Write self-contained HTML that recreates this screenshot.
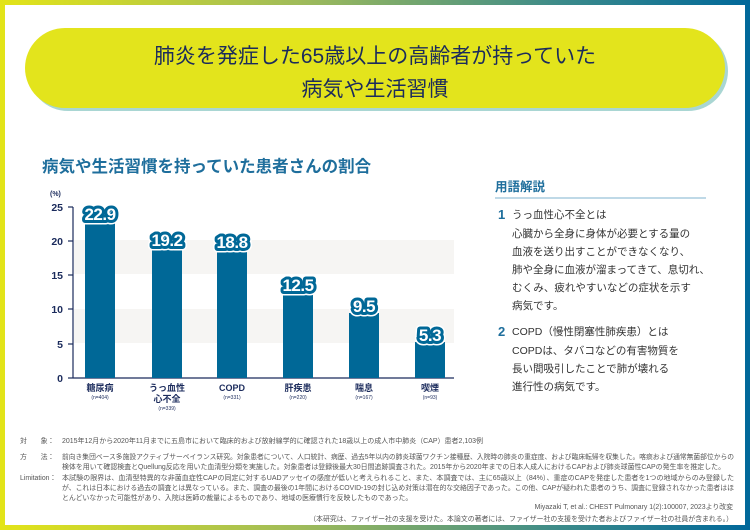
<!DOCTYPE html>
<html><head><meta charset="utf-8"><style>
html,body{margin:0;padding:0}
body{width:750px;height:530px;position:relative;overflow:hidden;background:linear-gradient(90deg,#e3e418 0%,#9fbb5a 40%,#3b8a8a 75%,#00689a 100%);font-family:"Liberation Sans","Noto Sans CJK JP",sans-serif}
.in{position:absolute;left:5px;top:5px;right:5px;bottom:5px;background:#fff}
.t{position:absolute;white-space:nowrap}
</style></head><body>
<div class="in"></div>
<div style="position:absolute;left:28px;top:31px;width:700px;height:80px;border-radius:40px;background:#a9d6d3"></div>
<div style="position:absolute;left:25px;top:28px;width:700px;height:80px;border-radius:40px;background:#e3e41c"></div>
<div class="t" style="left:25px;width:700px;top:40px;text-align:center;font-size:21px;line-height:33px;color:#1b2b5c">肺炎を発症した65歳以上の高齢者が持っていた<br>病気や生活習慣</div>
<svg style="position:absolute;left:0;top:0" width="750" height="530" font-family="Liberation Sans, Noto Sans CJK JP, sans-serif">
<text x="42" y="172" font-size="16.5" font-weight="bold" fill="#1e6e9c">病気や生活習慣を持っていた患者さんの割合</text>
<text x="50" y="196" font-size="7" font-weight="bold" fill="#1b2b5c">(%)</text>
<rect x="74" y="240" width="380" height="34" fill="#f6f5f3"/>
<rect x="74" y="309" width="380" height="34" fill="#f6f5f3"/>
<g stroke="#1b2b5c" stroke-width="1.2"><line x1="73" y1="207" x2="73" y2="378"/><line x1="73" y1="378" x2="454" y2="378"/>
<line x1="68" y1="207" x2="73" y2="207"/><line x1="68" y1="241" x2="73" y2="241"/><line x1="68" y1="275" x2="73" y2="275"/><line x1="68" y1="309" x2="73" y2="309"/><line x1="68" y1="344" x2="73" y2="344"/><line x1="68" y1="378" x2="73" y2="378"/></g>
<g font-size="10.5" font-weight="bold" fill="#1b2b5c" text-anchor="end"><text x="63" y="211">25</text><text x="63" y="245">20</text><text x="63" y="279">15</text><text x="63" y="313">10</text><text x="63" y="348">5</text><text x="63" y="382">0</text></g>
<g fill="#006897"><rect x="85" y="221" width="30" height="157"/><rect x="152" y="247" width="30" height="131"/><rect x="217" y="249" width="30" height="129"/><rect x="283" y="292" width="30" height="86"/><rect x="349" y="313" width="30" height="65"/><rect x="415" y="342" width="30" height="36"/></g>
<g font-size="17" font-weight="bold" text-anchor="middle" letter-spacing="-0.5" stroke-linejoin="round">
<g stroke="#fff" stroke-width="9" fill="#fff"><text x="100" y="220">22.9</text><text x="167" y="246">19.2</text><text x="232" y="248">18.8</text><text x="298" y="291">12.5</text><text x="364" y="312">9.5</text><text x="430" y="341">5.3</text></g>
<g stroke="#006897" stroke-width="6" fill="#006897"><text x="100" y="220">22.9</text><text x="167" y="246">19.2</text><text x="232" y="248">18.8</text><text x="298" y="291">12.5</text><text x="364" y="312">9.5</text><text x="430" y="341">5.3</text></g>
<g fill="#fff"><text x="100" y="220">22.9</text><text x="167" y="246">19.2</text><text x="232" y="248">18.8</text><text x="298" y="291">12.5</text><text x="364" y="312">9.5</text><text x="430" y="341">5.3</text></g>
</g>
<g font-size="9" font-weight="bold" fill="#1b2b5c" text-anchor="middle"><text x="100" y="391">糖尿病</text><text x="167" y="391">うっ血性</text><text x="167" y="402">心不全</text><text x="232" y="391">COPD</text><text x="298" y="391">肝疾患</text><text x="364" y="391">喘息</text><text x="430" y="391">喫煙</text></g>
<g font-size="5" fill="#1b2b5c" text-anchor="middle"><text x="100" y="399">(n=404)</text><text x="167" y="410">(n=339)</text><text x="232" y="399">(n=331)</text><text x="298" y="399">(n=220)</text><text x="364" y="399">(n=167)</text><text x="430" y="399">(n=93)</text></g>
<text x="495" y="191" font-size="12.5" font-weight="bold" fill="#1e6e9c">用語解説</text>
<line x1="495" y1="198" x2="706" y2="198" stroke="#7fb3cf" stroke-width="1"/>
<text x="498" y="219" font-size="13" font-weight="bold" fill="#1e6e9c">1</text>
<text x="498" y="336" font-size="13" font-weight="bold" fill="#1e6e9c">2</text>
<g font-size="10.5" fill="#333"><text x="512" y="218">うっ血性心不全とは</text><text x="512" y="237">心臓から全身に身体が必要とする量の</text><text x="512" y="255">血液を送り出すことができなくなり、</text><text x="512" y="273">肺や全身に血液が溜まってきて、息切れ、</text><text x="512" y="291">むくみ、疲れやすいなどの症状を示す</text><text x="512" y="309">病気です。</text>
<text x="512" y="335">COPD（慢性閉塞性肺疾患）とは</text><text x="512" y="354">COPDは、タバコなどの有害物質を</text><text x="512" y="372">長い間吸引したことで肺が壊れる</text><text x="512" y="390">進行性の病気です。</text></g>
<g font-size="6.9" fill="#555"><text x="20" y="443">対　　象：</text><text x="62" y="443" textLength="421" lengthAdjust="spacingAndGlyphs">2015年12月から2020年11月までに五島市において臨床的および放射線学的に確認された18歳以上の成人市中肺炎（CAP）患者2,103例</text>
<text x="20" y="459">方　　法：</text><text x="62" y="459" textLength="672" lengthAdjust="spacingAndGlyphs">前向き集団ベース多施設アクティブサーベイランス研究。対象患者について、人口統計、病歴、過去5年以内の肺炎球菌ワクチン接種歴、入院時の肺炎の重症度、および臨床転帰を収集した。喀痰および通常無菌部位からの</text>
<text x="62" y="469" textLength="663" lengthAdjust="spacingAndGlyphs">検体を用いて確認検査とQuellung反応を用いた血清型分類を実施した。対象患者は登録後最大30日間追跡調査された。2015年から2020年までの日本人成人におけるCAPおよび肺炎球菌性CAPの発生率を推定した。</text>
<text x="20" y="480">Limitation：</text><text x="62" y="480" textLength="672" lengthAdjust="spacingAndGlyphs">本試験の限界は、血清型特異的な非菌血症性CAPの同定に対するUADアッセイの感度が低いと考えられること、また、本調査では、主に65歳以上（84%）、重症のCAPを発症した患者を1つの地域からのみ登録した</text>
<text x="62" y="490" textLength="672" lengthAdjust="spacingAndGlyphs">が、これは日本における過去の調査とは異なっている。また、調査の最後の1年間におけるCOVID-19の封じ込め対策は潜在的な交絡因子であった。この他、CAPが疑われた患者のうち、調査に登録されなかった患者はほ</text>
<text x="62" y="500">とんどいなかった可能性があり、入院は医師の裁量によるものであり、地域の医療慣行を反映したものであった。</text>
<text x="733" y="509" text-anchor="end">Miyazaki T, et al.: CHEST Pulmonary 1(2):100007, 2023より改変</text>
<text x="733" y="521" text-anchor="end">（本研究は、ファイザー社の支援を受けた。本論文の著者には、ファイザー社の支援を受けた者およびファイザー社の社員が含まれる。）</text></g>
</svg>
</body></html>
